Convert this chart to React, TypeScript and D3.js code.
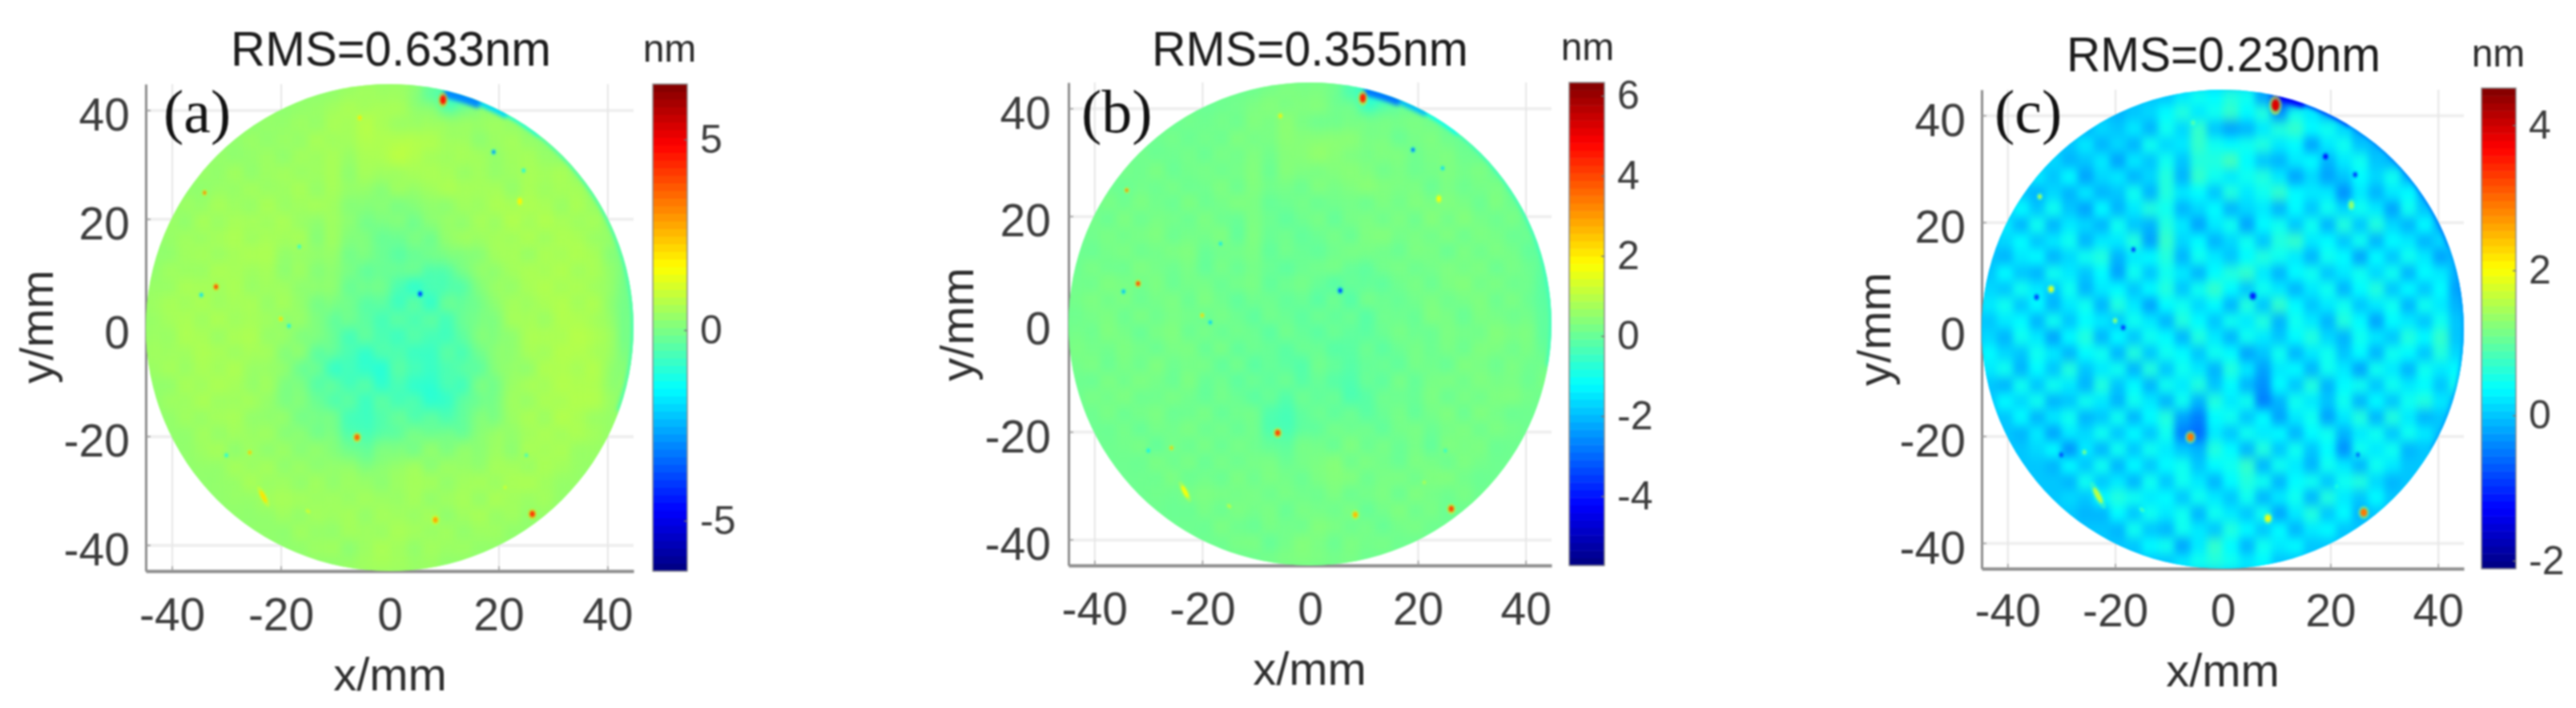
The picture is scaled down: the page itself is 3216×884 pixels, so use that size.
import { useEffect, useRef } from "react";
import * as d3 from "d3";

// surface height in nm, rows run from y=+42.5 to y=-42.5, columns from x=-42.5 to x=42.5 (5 mm cells)
const gridA = [
  [.3,.3,.3,.3,.3,.3,.3,.35,.35,.2,-.4,-1,.1,.2,.3,.3,.3,.3],
  [.3,.3,.3,.3,.3,.35,.4,.5,.6,.5,.4,.1,.3,.3,.3,.3,.3,.3],
  [.3,.3,.3,.3,.35,.4,.45,.4,.45,.7,.55,.5,.35,.4,.35,.3,.3,.3],
  [.3,.3,.3,.4,.4,.45,.4,.3,.25,.35,.4,.5,.45,.45,.5,.45,.3,.3],
  [.3,.3,.4,.45,.5,.4,.35,.2,.05,.05,.2,.35,.45,.55,.5,.5,.4,.3],
  [.3,.35,.45,.5,.5,.4,.25,.1,-.15,-.2,-.05,.2,.4,.5,.5,.55,.45,.2],
  [.3,.4,.45,.5,.45,.3,.15,-.05,-.3,-.45,-.5,-.1,.25,.45,.5,.55,.5,.1],
  [.35,.45,.5,.45,.4,.3,.1,-.2,-.45,-.9,-1,-.55,.1,.4,.5,.55,.5,0],
  [.4,.5,.5,.45,.4,.25,-.05,-.45,-.6,-.7,-.8,-.55,0,.35,.5,.6,.55,-.1],
  [.4,.5,.5,.5,.4,.15,-.25,-.7,-.75,-.75,-.8,-.65,-.1,.3,.55,.6,.6,-.1],
  [.35,.45,.5,.45,.3,-.05,-.65,-1.1,-1.1,-.8,-.8,-.7,-.25,.25,.5,.6,.6,0],
  [.3,.4,.5,.45,.25,-.05,-.4,-.7,-.8,-.9,-1.1,-.8,-.2,.3,.5,.6,.55,.2],
  [.3,.35,.45,.4,.3,.05,-.2,-.65,-.8,-.4,-.5,-.45,0,.35,.45,.55,.45,.3],
  [.3,.3,.45,.4,.3,.2,.1,-.1,-.3,-.05,.05,.1,.25,.4,.45,.45,.4,.3],
  [.3,.3,.3,.45,.4,.35,.3,.25,.25,.3,.35,.35,.4,.45,.45,.4,.3,.3],
  [.3,.3,.3,.3,.4,.35,.35,.4,.35,.4,.35,.4,.4,.4,.4,.3,.3,.3],
  [.3,.3,.3,.3,.3,.3,.35,.35,.4,.4,.4,.35,.35,.3,.3,.3,.3,.3],
  [.3,.3,.3,.3,.3,.3,.3,.3,.35,.35,.3,.3,.3,.3,.3,.3,.3,.3],
];

const gridB = [
  [.1,.1,.1,.1,.1,.1,.1,.15,.15,.05,-.3,-.9,-.1,.05,.1,.1,.1,.1],
  [.1,.1,.1,.1,.1,.1,.15,.2,.25,.2,.15,-.1,.1,.1,.1,.1,.1,.1],
  [.1,.1,.1,.1,.1,.15,.15,.15,.2,.35,.3,.25,.15,.15,.1,.1,.1,.1],
  [.1,.1,.1,.15,.1,.15,.15,.1,.1,.15,.2,.25,.2,.2,.15,.1,.1,.1],
  [.1,.1,.1,.15,.15,.1,.1,.05,.05,.1,.1,.15,.15,.2,.15,.15,.1,.1],
  [.1,.1,.15,.15,.1,.1,.05,0,0,.05,.05,.1,.1,.15,.15,.15,.1,0],
  [.1,.1,.15,.1,.1,.05,.05,0,-.05,-.05,0,.05,.1,.1,.15,.1,.1,0],
  [.1,.15,.15,.1,.1,.05,.05,-.05,-.1,-.15,-.2,-.05,.05,.1,.15,.15,.1,-.1],
  [.1,.15,.1,.1,.1,.05,0,-.1,-.1,-.1,-.2,-.1,.05,.1,.1,.15,.1,-.1],
  [.15,.15,.1,.1,.1,.05,-.05,-.1,-.1,-.1,-.15,-.1,0,.1,.1,.15,.15,-.1],
  [.1,.1,.1,.1,.1,0,-.1,-.2,-.2,-.1,-.1,-.1,0,.05,.15,.15,.1,0],
  [.1,.1,.15,.1,.05,0,-.05,-.15,-.15,-.15,-.2,-.1,0,.1,.1,.15,.1,.1],
  [.1,.1,.1,.1,.1,.05,0,-.2,-.3,-.05,-.05,-.05,.05,.1,.1,.1,.1,.1],
  [.1,.1,.1,.1,.1,.05,.05,0,-.05,.05,.1,.05,.05,.1,.15,.1,.1,.1],
  [.1,.1,.1,.15,.05,.1,.1,.1,.1,.15,.2,.1,.1,.15,.1,.1,.1,.1],
  [.1,.1,.1,.1,.1,.05,.1,.1,.05,.1,.1,.1,.1,.1,.1,.1,.1,.1],
  [.1,.1,.1,.1,.1,.1,.1,.05,.1,.15,.1,.05,.1,.1,.1,.1,.1,.1],
  [.1,.1,.1,.1,.1,.1,.1,.1,.1,.1,.1,.1,.1,.1,.1,.1,.1,.1],
];

// rows from y=+43.5 to y=-43.5, columns from x=-43.5 to x=43.5 (3 mm cells)
const gridC = [
  [-.1,-.1,-.1,-.1,-.1,-.1,-.1,-.1,-.1,-.1,-.1,-.1,.1,.3,.2,.4,.3,-.3,-1,-1.1,-.1,-.1,-.1,-.1,-.1,-.1,-.1,-.1,-.1,-.1],
  [-.1,-.1,-.1,-.1,-.1,-.1,-.1,-.1,-.2,-.1,0,.2,.4,.1,.3,.5,.2,.4,-.4,.3,.1,-.2,-.1,-.1,-.1,-.1,-.1,-.1,-.1,-.1],
  [-.1,-.1,-.1,-.1,-.1,-.1,-.2,0,-.1,.1,-.2,.3,0,.5,-.1,-.3,-.2,.1,.4,.5,.2,.3,0,-.3,-.1,-.1,-.1,-.1,-.1,-.1],
  [-.1,-.1,-.1,-.1,-.1,-.1,.1,-.2,0,-.2,.3,0,.1,.5,.3,.2,.3,.4,.1,.2,-.3,.1,.3,-.1,-.2,-.1,-.1,-.1,-.1,-.1],
  [-.1,-.1,-.1,-.1,0,-.2,-.1,.1,-.3,.1,-.1,.3,-.1,.4,.4,.6,.2,-.1,-.2,.1,.2,-.2,.1,.3,-.1,-.2,-.1,-.1,-.1,-.1],
  [-.1,-.1,-.1,.1,-.1,.2,-.3,0,.1,-.2,0,.4,-.2,.5,.3,.1,.3,.4,.1,-.3,0,-.3,-.1,.2,0,.3,-.2,-.1,-.1,-.1],
  [-.1,-.1,-.1,-.2,0,-.2,.1,-.2,-.1,.3,-.2,.4,.1,.2,-.1,.4,.1,.3,.5,.2,.1,.1,-.4,.1,-.2,.1,.2,-.2,-.1,-.1],
  [-.1,-.1,.2,-.1,.3,-.1,-.3,.2,-.2,.1,.4,.3,-.2,0,.2,-.2,0,.1,-.2,.2,-.1,.3,0,.3,.1,-.3,.3,-.1,-.1,-.1],
  [-.1,.1,-.2,.3,-.2,.1,0,-.2,.3,-.1,-.2,.4,.1,-.3,.1,.3,-.3,.2,.3,-.1,.3,-.2,.4,-.1,.4,0,-.2,.2,-.2,-.1],
  [-.1,0,.2,-.1,.1,.3,-.2,.1,.1,.4,-.3,.5,0,.2,-.2,0,.3,-.1,.4,.5,.1,.2,-.1,.3,-.2,.2,.1,-.2,0,-.1],
  [-.1,-.2,.1,.2,-.2,0,.3,.4,-.2,.1,.2,.4,-.2,.3,.1,-.1,.2,.4,.3,.1,-.2,.3,.2,-.3,.2,-.1,.3,.1,-.3,-.1],
  [-.1,.2,-.1,-.2,.3,.1,-.1,.2,-.3,.3,-.1,.3,.1,-.2,.2,.4,.5,.1,-.2,.2,.3,-.1,.1,.3,0,.3,-.2,.2,.1,-.2],
  [0,-.1,.3,.1,-.1,.3,-.2,.1,.2,-.1,.2,.4,-.1,.3,.5,.2,-.1,.3,.1,-.2,.1,.3,-.2,.2,.4,-.1,.2,-.1,.2,-.3],
  [.1,.3,-.1,.2,-.2,.1,.3,-.2,.4,.1,-.3,.2,.3,0,.2,-.2,.4,-.1,.5,.2,-.1,.1,.3,-.1,.1,.3,-.2,.3,.1,-.2],
  [-.1,.1,.2,-.2,.3,-.1,.2,.1,-.1,.3,.1,-.2,.4,.2,-.1,.3,.1,.4,-.2,.3,.1,-.2,.4,.2,-.3,.2,.1,-.1,.3,-.1],
  [0,-.2,.3,.1,-.3,.2,.4,-.2,.2,-.1,.3,.2,-.2,.4,.1,-.2,.3,.1,-.1,.2,.4,0,-.2,.3,.1,-.1,.4,.2,.5,-.1],
  [.2,0,-.1,.3,.1,-.2,.2,.3,-.2,.4,-.1,.3,.2,-.1,.3,.2,-.3,-.1,.3,-.2,.1,.3,-.1,.2,-.2,.3,.2,-.1,.4,0],
  [.1,.3,-.2,.2,-.1,.4,-.1,.1,.3,-.2,.4,-.1,.3,.1,-.2,.4,.1,-.3,.1,.2,-.2,.3,.1,-.3,.3,.1,-.2,.3,.1,.2],
  [-.1,-.2,.3,-.1,.3,.1,-.2,.4,-.1,.2,-.2,.3,.1,.4,-.1,.2,-.2,-.4,.2,-.1,.4,-.2,.2,.3,-.1,.3,.1,.2,-.1,.3],
  [-.1,.2,0,.3,-.2,-.1,.3,.1,-.2,.3,.1,-.2,.3,-.2,.4,.1,.3,-.5,-.2,.3,.1,-.1,.3,-.2,.2,-.1,.3,.4,.1,-.1],
  [-.1,-.1,.2,-.2,.1,.3,-.2,-.1,.3,-.2,.2,.4,-.3,-.5,.2,.3,-.1,.2,-.3,.1,.3,-.3,.1,.4,-.2,.4,.1,-.2,-.1,-.1],
  [-.1,-.1,-.2,.1,-.3,.1,0,.3,-.1,.2,-.1,.3,-.5,-.6,.1,-.1,.3,.1,.2,-.2,.2,.3,-.2,.1,.3,-.1,.3,.1,-.1,-.1],
  [-.1,-.1,-.1,0,.2,-.4,.1,-.2,.3,-.1,.3,.1,-.1,-.2,.4,.2,-.2,.4,-.1,.3,-.1,.2,-.4,.3,.1,.3,-.2,-.1,-.1,-.1],
  [-.1,-.1,-.1,-.1,-.2,.2,-.1,.3,-.2,.2,-.1,.2,.3,-.1,.2,.3,.5,-.2,.3,.1,-.2,.3,.1,-.2,.3,.1,-.1,-.1,-.1,-.1],
  [-.1,-.1,-.1,-.1,-.1,-.2,.3,-.1,.1,-.2,.3,-.1,.3,.1,-.2,.2,.4,.3,-.2,.2,.3,-.1,.3,.4,0,-.2,-.1,-.1,-.1,-.1],
  [-.1,-.1,-.1,-.1,-.1,0,-.1,.2,.4,.3,.1,.2,-.1,.3,.1,-.1,.3,-.2,.1,.3,-.2,.4,.1,-.1,.2,-.1,-.1,-.1,-.1,-.1],
  [-.1,-.1,-.1,-.1,-.1,-.1,-.2,-.2,.2,-.1,.3,.1,.3,-.2,.3,.1,-.1,.3,-.3,.1,.4,-.1,.2,-.2,-.1,-.1,-.1,-.1,-.1,-.1],
  [-.1,-.1,-.1,-.1,-.1,-.1,-.1,-.1,-.2,.3,-.1,-.2,.3,.1,-.1,.4,.2,-.1,.2,-.2,.1,.2,-.1,-.1,-.1,-.1,-.1,-.1,-.1,-.1],
  [-.1,-.1,-.1,-.1,-.1,-.1,-.1,-.1,-.1,-.1,.2,.3,-.3,.1,.5,.2,-.2,.3,.1,.2,-.1,-.1,-.1,-.1,-.1,-.1,-.1,-.1,-.1,-.1],
  [-.1,-.1,-.1,-.1,-.1,-.1,-.1,-.1,-.1,-.1,-.1,-.1,.1,.3,.4,.3,.1,.2,-.1,-.1,-.1,-.1,-.1,-.1,-.1,-.1,-.1,-.1,-.1,-.1],
];

// point defects, same positions on all three maps
const defectX = [9.8,-5.5,19.1,24.6,-34,23.9,-31.9,-34.6,5.6,-20,-18.5,-16.6,-6,-25.7,-30,-23.2,-15,8.4,26.2,21.2,25.1];
const defectY = [41.9,38.6,32.3,28.9,24.8,23.2,7.5,6,6.2,1.6,.3,14.9,-20.2,-23,-23.5,-31.1,-33.8,-35.4,-34.3,-29.4,-23.5];
const defectA = [4.6,2,-3,-1.6,3.4,1.8,4,-2,-4,2.2,-1.8,-1.4,3.6,2.6,-1.4,2,1.2,2.8,4.2,1.2,-1];
const defectB = [4.4,2,-3,-1.8,3.4,1.8,4,-2.2,-3.4,2.4,-2,-1.6,4,2.6,-1.4,1.8,1.2,2.6,4,1,-.8];
const defectC = [3.9,.9,-1.2,-1,1.5,1.3,1.8,-.9,-1.1,1.3,-1,-1,2.9,1.2,-.8,1.6,.8,1.9,2.9,.6,-.6];
const defectSize = [1.2,.65,.65,.55,.6,.8,.8,.6,.8,.6,.55,.5,1.05,.55,.55,.8,.5,.95,1.05,.5,.5];
const defectStretch = [1.3,1,1,1,1,1.3,1,1,1,1,1,1,1,1,1,3,1.4,1,1,1,1];
const defectTilt = [0,0,0,0,0,0,0,0,0,0,0,0,0,0,0,-28,-50,0,0,0,0];

// rim of the disc: start angle, end angle (deg, clockwise from top), inner radius in mm, value in nm
const rimA = [[13,22,43.4,-3],[22,29,43.9,-2],[29,38,44.3,-1.2],[38,110,44.4,-.7]];
const rimB = [[13,22,43.6,-2.8],[22,29,44,-2],[29,38,44.3,-1.2],[38,100,44.5,-.6]];
const rimC = [[13,20,43.8,-1.3],[20,32,44.2,-.9],[32,70,44.5,-.6],[70,120,44.6,-.35]];

const xTicks = [-40, -20, 0, 20, 40];
const yTicks = [-40, -20, 0, 20, 40];
const barTicksA = [-5, 0, 5];
const barTicksB = [-4, -2, 0, 2, 4, 6];
const barTicksC = [-2, 0, 2, 4];
const jetStops = [0, .125, .375, .625, .875, 1];
const jetColors = ["#00007f", "#0000ff", "#00ffff", "#ffff00", "#ff0000", "#7f0000"];

const panels = [
  {
    id: "a", tag: "(a)", title: "RMS=0.633nm", grid: gridA, cell: 5, blur: "11", gain: 1, piston: 0, streak: .4, spot: 1, defects: defectA, rim: rimA, mean: .3,
    barDomain: [-6.32, 6.45], barTicks: barTicksA,
    box: { l: 182, r: 791, t: 105, b: 713 }, bar: { l: 815, r: 858, t: 105, b: 713 },
    titleBox: { l: 288, w: 400, y: 82 }, tagPos: [204, 165], nmPos: [836, 77],
    xLabel: [487, 862], yLabel: [66, 408], pad: { y: 20, x: 33.5 },
  },
  {
    id: "b", tag: "(b)", title: "RMS=0.355nm", grid: gridB, cell: 5, blur: "11", gain: 1, piston: 0, streak: .4, spot: 1, defects: defectB, rim: rimB, mean: .1,
    barDomain: [-5.73, 6.33], barTicks: barTicksB,
    box: { l: 1334, r: 1937, t: 103, b: 706 }, bar: { l: 1959, r: 2003, t: 103, b: 706 },
    titleBox: { l: 1438, w: 395, y: 82 }, tagPos: [1350, 165], nmPos: [1982, 75],
    xLabel: [1635, 855], yLabel: [1215, 405], pad: { y: 22, x: 33.5 },
  },
  {
    id: "c", tag: "(c)", title: "RMS=0.230nm", grid: gridC, cell: 3, blur: "4 7", gain: 1.15, piston: .12, streak: 0, spot: 1.3, defects: defectC, rim: rimC, mean: 0,
    barDomain: [-2.11, 4.51], barTicks: barTicksC,
    box: { l: 2474, r: 3076, t: 112, b: 710 }, bar: { l: 3098, r: 3141, t: 110, b: 710 },
    titleBox: { l: 2580, w: 392, y: 89 }, tagPos: [2490, 165], nmPos: [3119, 83],
    xLabel: [2775, 857], yLabel: [2360, 411], pad: { y: 20, x: 31.5 },
  },
];

const sans = "'Liberation Sans', Arial, sans-serif";
const discRadius = 44.8;

function drawPanel(svg: d3.Selection<SVGSVGElement, unknown, null, undefined>, p: typeof panels[number]) {
  const { box, bar } = p;
  const x = d3.scaleLinear().domain([-44.8, 44.8]).range([box.l, box.r]);
  const y = d3.scaleLinear().domain([-44.8, 44.8]).range([box.b, box.t]);
  const w = box.r - box.l;
  const h = box.b - box.t;

  const jet = d3.scaleLinear<string>().domain(jetStops).range(jetColors).clamp(true);
  const color = (v: number) => jet((v - p.barDomain[0]) / (p.barDomain[1] - p.barDomain[0]));

  const g = svg.append("g");

  // grid lines sit under the map
  const gridY = g.append("g").attr("transform", `translate(${box.l},0)`)
    .call(d3.axisLeft(y).tickValues(yTicks).tickSize(-w).tickFormat(() => ""));
  gridY.select(".domain").remove();
  gridY.selectAll("line").attr("stroke", "#efefef").attr("stroke-width", 4);
  const gridX = g.append("g").attr("transform", `translate(0,${box.b})`)
    .call(d3.axisBottom(x).tickValues(xTicks).tickSize(-h).tickFormat(() => ""));
  gridX.select(".domain").remove();
  gridX.selectAll("line").attr("stroke", "#e6e6e6").attr("stroke-width", 2);

  // axes, left and bottom only
  const axL = g.append("g").attr("transform", `translate(${box.l},0)`)
    .call(d3.axisLeft(y).tickValues(yTicks).tickSize(-6).tickSizeOuter(0).tickPadding(p.pad.y).tickFormat(d3.format("d")));
  const axB = g.append("g").attr("transform", `translate(0,${box.b})`)
    .call(d3.axisBottom(x).tickValues(xTicks).tickSize(-6).tickSizeOuter(0).tickPadding(p.pad.x).tickFormat(d3.format("d")));
  axL.select(".domain").attr("stroke", "#8c8c8c").attr("stroke-width", 3);
  axB.select(".domain").attr("stroke", "#8c8c8c").attr("stroke-width", 4);
  [axL, axB].forEach((ax) => {
    ax.selectAll("line").attr("stroke", "#999").attr("stroke-width", 1.5);
    ax.selectAll("text").attr("fill", "#3c3c3c").style("font", `57px ${sans}`)
      .text((d: any) => String(d));
  });
  axL.selectAll("text").attr("dy", "0.44em");

  // map
  const clipId = `disc-${p.id}`;
  svg.append("clipPath").attr("id", clipId).append("ellipse")
    .attr("cx", x(0)).attr("cy", y(0))
    .attr("rx", x(discRadius) - x(0)).attr("ry", y(0) - y(discRadius));

  const map = g.append("g").attr("clip-path", `url(#${clipId})`);
  map.append("rect").attr("x", box.l).attr("y", box.t).attr("width", w).attr("height", h).attr("fill", color(p.mean));

  const addBlur = (id: string, sd: string) => svg.append("filter").attr("id", id)
    .attr("filterUnits", "userSpaceOnUse").attr("x", box.l - 40).attr("y", box.t - 40)
    .attr("width", w + 80).attr("height", h + 80)
    .attr("color-interpolation-filters", "sRGB")
    .append("feGaussianBlur").attr("stdDeviation", sd);

  addBlur(`smooth-${p.id}`, p.blur);
  const toCells = (grid: number[][]) => grid.flatMap((row, j) => row.map((v, i) => ({ i, j, v })));
  const start = -(p.grid.length * p.cell) / 2;
  map.append("g").attr("filter", `url(#smooth-${p.id})`)
    .selectAll("rect").data(toCells(p.grid)).join("rect")
    .attr("x", (d) => x(start + d.i * p.cell))
    .attr("y", (d) => y(-start - d.j * p.cell))
    .attr("width", x(p.cell) - x(0) + .5)
    .attr("height", y(0) - y(p.cell) + .5)
    .attr("fill", (d) => color(p.piston + p.gain * d.v));

  // the fine polishing marks of map (c) show faintly in (a) and (b) as well
  if (p.streak > 0) {
    addBlur(`fine-${p.id}`, "4 7");
    map.append("g").attr("filter", `url(#fine-${p.id})`)
      .selectAll("rect").data(toCells(gridC)).join("rect")
      .attr("x", (d) => x(-45 + d.i * 3))
      .attr("y", (d) => y(45 - d.j * 3))
      .attr("width", x(3) - x(0) + .5)
      .attr("height", y(0) - y(3) + .5)
      .attr("fill", (d) => color(p.mean + (d.v > -.1 ? 1 : -1)))
      .attr("opacity", (d) => Math.min(.5, Math.abs(d.v + .1) * p.streak));
  }

  const rimArc = d3.arc<number[]>()
    .innerRadius((d) => x(d[2]) - x(0))
    .outerRadius((x(discRadius) - x(0)) + 3)
    .startAngle((d) => (d[0] * Math.PI) / 180)
    .endAngle((d) => (d[1] * Math.PI) / 180);
  map.append("g").attr("transform", `translate(${x(0)},${y(0)})`).style("filter", "blur(2.5px)")
    .selectAll("path").data(p.rim).join("path")
    .attr("d", rimArc).attr("fill", (d) => color(d[3]));

  // defects: halo then core
  const spots = g.append("g").attr("clip-path", `url(#${clipId})`).style("filter", "blur(1px)");
  const idx = d3.range(defectX.length);
  const place = (sel: any, sx: number, sy: number) => sel
    .attr("transform", (i: number) => `translate(${x(defectX[i])},${y(defectY[i])}) rotate(${defectTilt[i]})`)
    .attr("rx", (i: number) => sx * p.spot * defectSize[i])
    .attr("ry", (i: number) => sy * p.spot * defectSize[i] * defectStretch[i]);
  place(spots.selectAll("ellipse.halo").data(idx).join("ellipse").attr("class", "halo"), 5, 6)
    .attr("fill", (i: number) => color(p.mean + (p.defects[i] - p.mean) * .5))
    .attr("opacity", .55);
  place(spots.selectAll("ellipse.core").data(idx).join("ellipse").attr("class", "core"), 3, 3.6)
    .attr("fill", (i: number) => color(p.defects[i]));

  // colour bar, 64 levels like the jet map
  const barY = d3.scaleLinear().domain(p.barDomain).range([bar.b, bar.t]);
  const levels = d3.range(64);
  const barG = g.append("g");
  const step = (p.barDomain[1] - p.barDomain[0]) / 64;
  barG.selectAll("rect").data(levels).join("rect")
    .attr("x", bar.l).attr("width", bar.r - bar.l)
    .attr("y", (d) => barY(p.barDomain[0] + (d + 1) * step))
    .attr("height", (bar.b - bar.t) / 64 + .5)
    .attr("fill", (d) => color(p.barDomain[0] + (d + .5) * step));
  barG.append("rect").attr("x", bar.l).attr("y", bar.t).attr("width", bar.r - bar.l).attr("height", bar.b - bar.t)
    .attr("fill", "none").attr("stroke", "#8c8c8c").attr("stroke-width", 1.5);
  const axR = g.append("g").attr("transform", `translate(${bar.r},0)`)
    .call(d3.axisRight(barY).tickValues(p.barTicks).tickSize(-4).tickSizeOuter(0).tickPadding(16).tickFormat(d3.format("d")));
  axR.select(".domain").remove();
  axR.selectAll("line").attr("stroke", "#777").attr("stroke-width", 1.5);
  axR.selectAll("text").attr("fill", "#3c3c3c").style("font", `50px ${sans}`).text((d: any) => String(d));

  // texts
  g.append("text").attr("x", p.titleBox.l).attr("y", p.titleBox.y)
    .attr("textLength", p.titleBox.w).attr("lengthAdjust", "spacingAndGlyphs")
    .attr("fill", "#1c1c1c").style("font", `62px ${sans}`).text(p.title);
  g.append("text").attr("x", p.tagPos[0]).attr("y", p.tagPos[1])
    .attr("fill", "#111").style("font", "76px 'Liberation Serif', serif").text(p.tag);
  g.append("text").attr("x", p.nmPos[0]).attr("y", p.nmPos[1]).attr("text-anchor", "middle")
    .attr("fill", "#2a2a2a").style("font", `48px ${sans}`).text("nm");
  g.append("text").attr("x", p.xLabel[0]).attr("y", p.xLabel[1]).attr("text-anchor", "middle")
    .attr("fill", "#2e2e2e").style("font", `58px ${sans}`).text("x/mm");
  g.append("text").attr("text-anchor", "middle")
    .attr("transform", `translate(${p.yLabel[0]},${p.yLabel[1]}) rotate(-90)`)
    .attr("fill", "#2e2e2e").style("font", `58px ${sans}`).text("y/mm");
}

export default function App() {
  const ref = useRef<SVGSVGElement>(null);

  useEffect(() => {
    if (!ref.current) return;
    const svg = d3.select(ref.current);
    svg.selectAll("*").remove();
    panels.forEach((p) => drawPanel(svg, p));
  }, []);

  return (
    <svg
      ref={ref}
      width={3216}
      height={884}
      viewBox="0 0 3216 884"
      style={{ position: "absolute", left: 0, top: 0, background: "#fff", filter: "blur(0.8px)" }}
    />
  );
}
